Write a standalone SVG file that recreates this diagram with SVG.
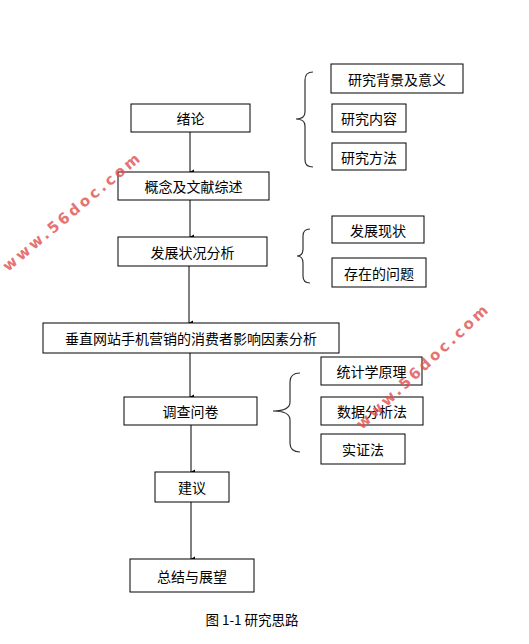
<svg xmlns="http://www.w3.org/2000/svg" width="529" height="644" viewBox="0 0 529 644">
<defs>
<marker id="ah" markerWidth="6" markerHeight="6" refX="3" refY="5" orient="auto" markerUnits="userSpaceOnUse">
<path d="M0.5,1 L3,5.5 L5.5,1 Z" fill="#000"/>
</marker>
</defs>
<style>
.box{fill:#fff;stroke:#000;stroke-width:1}
.t{font-family:"Noto Sans CJK SC","Noto Sans",sans-serif;font-size:14px;fill:#000;text-anchor:middle;dominant-baseline:central}
.c{stroke:#000;stroke-width:1;fill:none}
.br{stroke:#333;stroke-width:1.2;fill:none}
.wm{font-family:"DejaVu Sans",sans-serif;font-weight:bold;font-size:15px;fill:#e05050;opacity:0.8;letter-spacing:3px}
.cap{font-family:"Noto Sans CJK SC","Noto Sans",sans-serif;font-size:13.5px;fill:#000;text-anchor:middle;dominant-baseline:central}
</style>
<rect width="529" height="644" fill="#fff"/>
<g id="connectors">
<line class="c" x1="190" y1="132" x2="190" y2="172" marker-end="url(#ah)"/>
<line class="c" x1="190" y1="200" x2="190" y2="237" marker-end="url(#ah)"/>
<line class="c" x1="189" y1="266" x2="189" y2="323" marker-end="url(#ah)"/>
<line class="c" x1="190" y1="353" x2="190" y2="397" marker-end="url(#ah)"/>
<line class="c" x1="191" y1="425" x2="191" y2="472" marker-end="url(#ah)"/>
<line class="c" x1="191" y1="502" x2="191" y2="559" marker-end="url(#ah)"/>
<path class="br" d="M313,72 Q305,72 305,80 L305,112 Q305,119 296,119 Q305,119 305,126 L305,160 Q305,167 313,167"/>
<path class="br" d="M310,229 Q303,229 303,236 L303,249 Q303,256 297,256 Q303,256 303,263 L303,276 Q303,283 310,283"/>
<path class="br" d="M300,373 Q290,373 290,382 L290,402 Q290,411 273,411 Q290,411 290,420 L290,443 Q290,452 300,452"/>
</g>
<g id="n1"><rect class="box" x="131" y="104" width="119" height="28"/><text class="t" x="190.5" y="118">绪论</text></g>
<g id="n2"><rect class="box" x="331" y="64" width="132" height="29"/><text class="t" x="397" y="78.5">研究背景及意义</text></g>
<g id="n3"><rect class="box" x="332" y="104" width="74" height="28"/><text class="t" x="369" y="118">研究内容</text></g>
<g id="n4"><rect class="box" x="332" y="143" width="74" height="27"/><text class="t" x="369" y="156.5">研究方法</text></g>
<g id="n5"><rect class="box" x="118" y="172" width="151" height="28"/><text class="t" x="193.5" y="186">概念及文献综述</text></g>
<g id="n6"><rect class="box" x="118" y="237" width="149" height="29"/><text class="t" x="192.5" y="251.5">发展状况分析</text></g>
<g id="n7"><rect class="box" x="332" y="216" width="92" height="27"/><text class="t" x="378" y="229.5">发展现状</text></g>
<g id="n8"><rect class="box" x="332" y="258" width="94" height="29"/><text class="t" x="379" y="272.5">存在的问题</text></g>
<g id="n9"><rect class="box" x="43" y="323" width="296" height="30"/><text class="t" x="191" y="338">垂直网站手机营销的消费者影响因素分析</text></g>
<g id="n10"><rect class="box" x="321" y="357" width="101" height="28"/><text class="t" x="371.5" y="371">统计学原理</text></g>
<g id="n11"><rect class="box" x="321" y="397" width="102" height="28"/><text class="t" x="372" y="411">数据分析法</text></g>
<g id="n12"><rect class="box" x="321" y="434" width="84" height="30"/><text class="t" x="363" y="449">实证法</text></g>
<g id="n13"><rect class="box" x="124" y="397" width="133" height="28"/><text class="t" x="190.5" y="411">调查问卷</text></g>
<g id="n14"><rect class="box" x="155" y="472" width="74" height="30"/><text class="t" x="192" y="487">建议</text></g>
<g id="n15"><rect class="box" x="130" y="559" width="124" height="33"/><text class="t" x="192" y="575.5">总结与展望</text></g>
<text class="cap" x="252" y="619">图 1-1 研究思路</text>
<text class="wm" transform="translate(8,272) rotate(-40)">www.56doc.com</text>
<text class="wm" transform="translate(362,430) rotate(-43)">www.56doc.com</text>
</svg>
